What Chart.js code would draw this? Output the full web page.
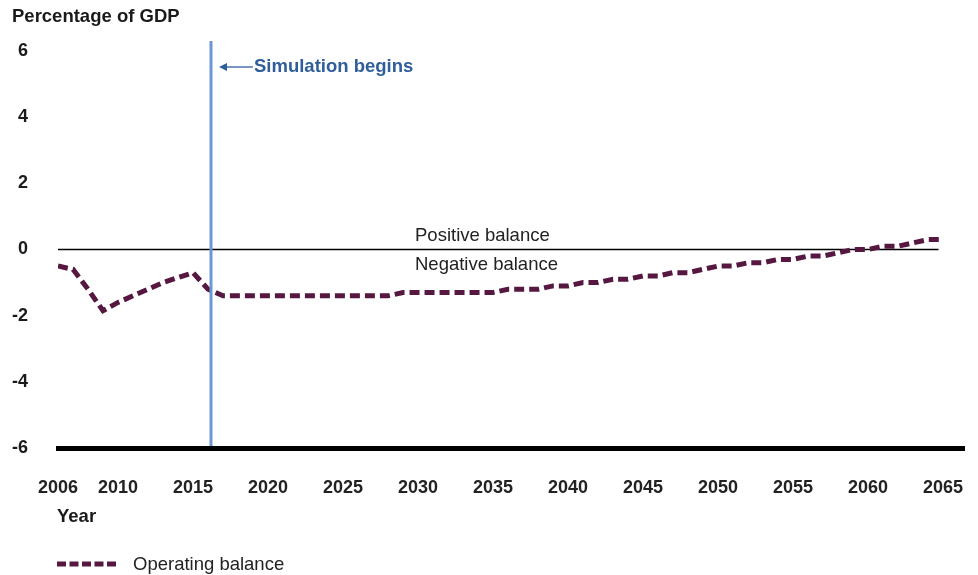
<!DOCTYPE html>
<html>
<head>
<meta charset="utf-8">
<script src="https://cdn.jsdelivr.net/npm/chart.js@4.4.0/dist/chart.umd.min.js"></script>
<style>
  body { margin: 0; background: #fff; }
</style>
</head>
<body>
<canvas id="myChart" width="978" height="575"></canvas>
<script>
var years = [2006, 2007, 2008, 2009, 2010, 2011, 2012, 2013, 2014, 2015,
             2016, 2017, 2018, 2019, 2020, 2021, 2022, 2023, 2024, 2025,
             2026, 2027, 2028, 2029, 2030, 2031, 2032, 2033, 2034, 2035,
             2036, 2037, 2038, 2039, 2040, 2041, 2042, 2043, 2044, 2045,
             2046, 2047, 2048, 2049, 2050, 2051, 2052, 2053, 2054, 2055,
             2056, 2057, 2058, 2059, 2060, 2061, 2062, 2063, 2064, 2065];

var balance = [-0.5, -0.6, -1.2, -1.85, -1.6, -1.4, -1.2, -1.0, -0.85, -0.7,
               -1.2, -1.4, -1.4, -1.4, -1.4, -1.4, -1.4, -1.4, -1.4, -1.4,
               -1.4, -1.4, -1.4, -1.3, -1.3, -1.3, -1.3, -1.3, -1.3, -1.3,
               -1.2, -1.2, -1.2, -1.1, -1.1, -1.0, -1.0, -0.9, -0.9, -0.8,
               -0.8, -0.7, -0.7, -0.6, -0.5, -0.5, -0.4, -0.4, -0.3, -0.3,
               -0.2, -0.2, -0.1, 0.0, 0.0, 0.1, 0.1, 0.2, 0.3, 0.3];

var tickYears = [2006, 2010, 2015, 2020, 2025, 2030, 2035, 2040, 2045, 2050, 2055, 2060, 2065];
var yTicks = [-6, -4, -2, 0, 2, 4, 6];
var simStart = 2016.2;

var points = years.map(function(y, i) { return {x: y, y: balance[i]}; });

var FONT = '"Liberation Sans", Arial, sans-serif';

// extra drawing: zero line, simulation marker, titles and legend
var extras = {
  id: 'extras',
  beforeDatasetsDraw: function(chart) {
    var ctx = chart.ctx, xs = chart.scales.x, ys = chart.scales.y;
    ctx.save();
    ctx.strokeStyle = '#000';
    ctx.lineWidth = 1.3;
    ctx.beginPath();
    ctx.moveTo(xs.getPixelForValue(2006), ys.getPixelForValue(0));
    ctx.lineTo(xs.getPixelForValue(2064.7), ys.getPixelForValue(0));
    ctx.stroke();
    ctx.restore();
  },
  afterDatasetsDraw: function(chart) {
    var ctx = chart.ctx, xs = chart.scales.x, ys = chart.scales.y;
    var area = chart.chartArea;
    var sx = xs.getPixelForValue(simStart);
    ctx.save();

    // simulation start line
    ctx.strokeStyle = '#6d97d1';
    ctx.lineWidth = 3;
    ctx.beginPath();
    ctx.moveTo(sx, area.top - 10);
    ctx.lineTo(sx, area.bottom - 2);
    ctx.stroke();

    // arrow + label
    var ay = 67;
    ctx.strokeStyle = '#2f5e9b';
    ctx.fillStyle = '#2f5e9b';
    ctx.lineWidth = 1.3;
    ctx.beginPath();
    ctx.moveTo(sx + 14, ay);
    ctx.lineTo(sx + 42, ay);
    ctx.stroke();
    ctx.beginPath();
    ctx.moveTo(sx + 8, ay);
    ctx.lineTo(sx + 16, ay - 4);
    ctx.lineTo(sx + 16, ay + 4);
    ctx.closePath();
    ctx.fill();
    ctx.font = 'bold 18.5px ' + FONT;
    ctx.textBaseline = 'middle';
    ctx.textAlign = 'left';
    ctx.fillText('Simulation begins', sx + 43, ay);

    // balance labels
    var zy = ys.getPixelForValue(0);
    ctx.fillStyle = '#222';
    ctx.font = '18.5px ' + FONT;
    ctx.fillText('Positive balance', 415, zy - 14);
    ctx.fillText('Negative balance', 415, zy + 15);

    // titles
    ctx.fillStyle = '#1a1a1a';
    ctx.font = 'bold 18.5px ' + FONT;
    ctx.fillText('Percentage of GDP', 12, 17);
    ctx.fillText('Year', 57, 517);

    // legend
    ctx.strokeStyle = '#561840';
    ctx.lineWidth = 5;
    ctx.setLineDash([9, 3.5]);
    ctx.beginPath();
    ctx.moveTo(57, 564);
    ctx.lineTo(118, 564);
    ctx.stroke();
    ctx.setLineDash([]);
    ctx.fillStyle = '#222';
    ctx.font = '18.5px ' + FONT;
    ctx.fillText('Operating balance', 133, 565);

    ctx.restore();
  }
};

var ctx = document.getElementById('myChart').getContext('2d');
var chart = new Chart(ctx, {
  type: 'line',
  data: {
    datasets: [{
      label: 'Operating balance',
      data: points,
      borderColor: '#561840',
      backgroundColor: '#561840',
      borderWidth: 5,
      borderDash: [10, 5],
      borderCapStyle: 'butt',
      pointRadius: 0,
      tension: 0,
      fill: false
    }]
  },
  options: {
    responsive: false,
    animation: false,
    layout: { padding: { top: 51, right: 14, bottom: 0, left: 0 } },
    plugins: {
      legend: { display: false },
      tooltip: { enabled: false }
    },
    scales: {
      x: {
        type: 'linear',
        min: 2006,
        max: 2066.4,
        afterBuildTicks: function(scale) {
          scale.ticks = tickYears.map(function(v) { return {value: v}; });
        },
        afterFit: function(scale) {
          scale.height = 127;
          scale.paddingLeft = 0;
          scale.paddingRight = 0;
        },
        grid: { display: false, drawTicks: false },
        border: { display: true, color: '#000', width: 5 },
        ticks: {
          autoSkip: false,
          maxRotation: 0,
          padding: 29,
          color: '#222',
          font: { family: FONT, size: 18, weight: 'bold' },
          callback: function(v) { return String(v); }
        }
      },
      y: {
        min: -6,
        max: 6,
        afterBuildTicks: function(scale) {
          scale.ticks = yTicks.map(function(v) { return {value: v}; });
        },
        afterFit: function(scale) { scale.width = 58; },
        grid: { display: false, drawTicks: false },
        border: { display: false },
        ticks: {
          padding: 30,
          color: '#1a1a1a',
          font: { family: FONT, size: 18, weight: 'bold' }
        }
      }
    }
  },
  plugins: [extras]
});
</script>
</body>
</html>
